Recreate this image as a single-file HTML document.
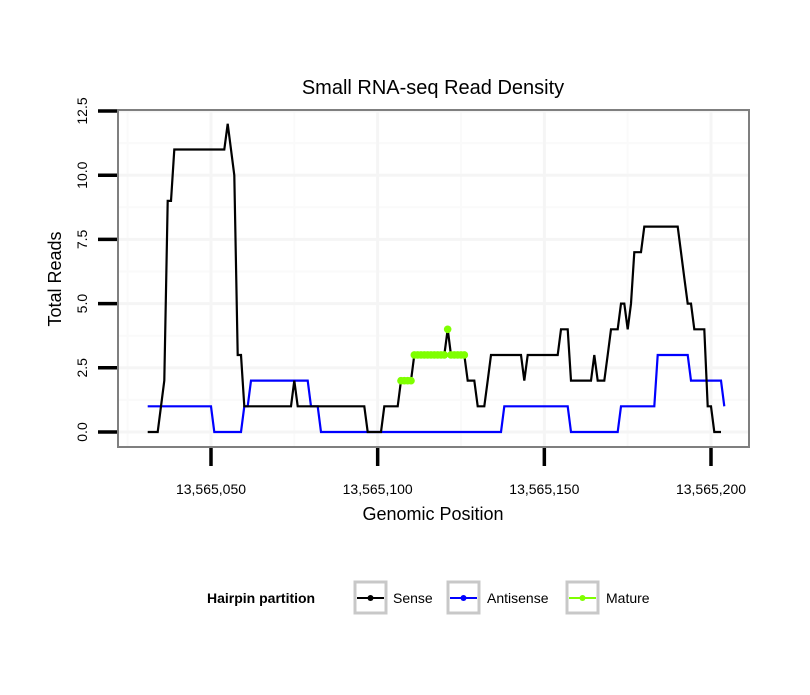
<!DOCTYPE html>
<html><head><meta charset="utf-8"><style>
body{margin:0;background:#fff;font-family:"Liberation Sans",sans-serif}
</style></head><body>
<svg id="c" width="810" height="690" viewBox="0 0 810 690" xmlns="http://www.w3.org/2000/svg" font-family="Liberation Sans, sans-serif">
<rect x="0" y="0" width="810" height="690" fill="#fff"/>
<text x="433" y="94" font-size="20" text-anchor="middle">Small RNA-seq Read Density</text>
<rect x="118" y="110" width="631" height="337" fill="#fff"/>
<g id="grid"></g>
<g id="series"></g>
<rect x="118" y="110" width="631" height="337" fill="none" stroke="#7f7f7f" stroke-width="2"/>
<g id="axes"></g>
<text x="433" y="520" font-size="18" text-anchor="middle">Genomic Position</text>
<text transform="translate(61,279) rotate(-90)" font-size="18" text-anchor="middle">Total Reads</text>
<g font-size="14">
<text x="207" y="603" font-weight="bold">Hairpin partition</text>
<g>
<rect x="355" y="582" width="31" height="31" fill="#fff" stroke="#c8c8c8" stroke-width="3"/>
<line x1="357" y1="598" x2="384" y2="598" stroke="#000" stroke-width="2"/><circle cx="370.5" cy="598" r="3" fill="#000"/>
<text x="393" y="603">Sense</text></g>
<g>
<rect x="448" y="582" width="31" height="31" fill="#fff" stroke="#c8c8c8" stroke-width="3"/>
<line x1="450" y1="598" x2="477" y2="598" stroke="#0000ff" stroke-width="2"/><circle cx="463.5" cy="598" r="3" fill="#0000ff"/>
<text x="487" y="603">Antisense</text></g>
<g>
<rect x="567" y="582" width="31" height="31" fill="#fff" stroke="#c8c8c8" stroke-width="3"/>
<line x1="569" y1="598" x2="596" y2="598" stroke="#7fff00" stroke-width="2"/><circle cx="582.5" cy="598" r="3" fill="#7fff00"/>
<text x="606" y="603">Mature</text></g>
</g>
</svg>
<script>
const startPos = 13565031;
const sense = [0,0,0,0,1,2,9,9,11,11,11,11,11,11,11,11,11,11,11,11,11,11,11,11,12,11,10,3,3,1,
1,1,1,1,1,1,1,1,1,1,1,1,1,1,2,1,1,1,1,1,1,1,1,1,1,1,1,1,1,1,1,1,1,1,1,1,0,0,0,0,
0,1,1,1,1,1,2,2,2,2,3,3,3,3,3,3,3,3,3,3,4,3,3,3,3,3,2,2,2,1,1,1,2,3,3,3,3,3,3,3,
3,3,3,2,3,3,3,3,3,3,3,3,3,3,4,4,4,2,2,2,2,2,2,2,3,2,2,2,3,4,4,4,5,5,4,5,7,7,7,8,
8,8,8,8,8,8,8,8,8,8,7,6,5,5,4,4,4,4,1,1,0,0,0];
const antisense = [1,1,1,1,1,1,1,1,1,1,1,1,1,1,1,1,1,1,1,1,0,0,0,0,0,0,0,0,0,1,
1,2,2,2,2,2,2,2,2,2,2,2,2,2,2,2,2,2,2,1,1,1,0,0,0,0,0,0,0,0,0,0,0,0,0,0,0,0,0,0,
0,0,0,0,0,0,0,0,0,0,0,0,0,0,0,0,0,0,0,0,0,0,0,0,0,0,0,0,0,0,0,0,0,0,0,0,0,1,1,1,
1,1,1,1,1,1,1,1,1,1,1,1,1,1,1,1,1,0,0,0,0,0,0,0,0,0,0,0,0,0,0,0,1,1,1,1,1,1,1,1,
1,1,1,3,3,3,3,3,3,3,3,3,3,2,2,2,2,2,2,2,2,2,2,1];
const matureStart = 76;
const mature = [2,2,2,2,3,3,3,3,3,3,3,3,3,3,4,3,3,3,3,3];
const xTicks = [13565050,13565100,13565150,13565200];
const xTickLabels = ["13,565,050","13,565,100","13,565,150","13,565,200"];
const xMinor = [13565025,13565075,13565125,13565175];
const yTicks = [0,2.5,5,7.5,10,12.5];
const yTickLabels = ["0.0","2.5","5.0","7.5","10.0","12.5"];
const yMinor = [1.25,3.75,6.25,8.75,11.25];

const NS="http://www.w3.org/2000/svg";
const xS = p => 211 + (p-13565050)*(711-211)/150;
const yS = v => 432 - v*(432-111)/12.5;
function mk(tag, attrs, parent){const e=document.createElementNS(NS,tag);for(const k in attrs)e.setAttribute(k,attrs[k]);parent.appendChild(e);return e;}
const grid=document.getElementById('grid'), series=document.getElementById('series'), axes=document.getElementById('axes');
xMinor.forEach(p=>{const l=mk('line',{x1:xS(p),x2:xS(p),y1:111,y2:446,stroke:'#fafafa','stroke-width':2},grid);

});
yMinor.forEach(v=>{const l=mk('line',{x1:119,x2:748,y1:yS(v),y2:yS(v),stroke:'#fafafa','stroke-width':2},grid);

});
xTicks.forEach(p=>{const l=mk('line',{x1:xS(p),x2:xS(p),y1:111,y2:446,stroke:'#f5f5f5','stroke-width':3},grid);

});
yTicks.forEach(v=>{const l=mk('line',{x1:119,x2:748,y1:yS(v),y2:yS(v),stroke:'#f5f5f5','stroke-width':3},grid);

});
function pts(arr,off){return arr.map((v,i)=>xS(startPos+off+i).toFixed(1)+','+yS(v).toFixed(1)).join(' ');}
const as=mk('polyline',{points:pts(antisense,0),fill:'none',stroke:'#0000ff','stroke-width':2.2},series);


const se=mk('polyline',{points:pts(sense,0),fill:'none',stroke:'#000','stroke-width':2.2},series);


mature.forEach((v,i)=>{const c=mk('circle',{cx:xS(startPos+matureStart+i),cy:yS(v),r:3.8,fill:'#7fff00'},series);

});
xTicks.forEach((p,i)=>{const l=mk('line',{x1:xS(p),x2:xS(p),y1:448,y2:466,stroke:'#000','stroke-width':3.5},axes);


const t=mk('text',{x:xS(p),y:494,'font-size':14,'text-anchor':'middle'},axes);t.textContent=xTickLabels[i];

});
yTicks.forEach((v,i)=>{const l=mk('line',{x1:98,x2:117,y1:yS(v),y2:yS(v),stroke:'#000','stroke-width':3.5},axes);


const t=mk('text',{transform:'translate(87,'+yS(v)+') rotate(-90)','font-size':14,'text-anchor':'middle'},axes);t.textContent=yTickLabels[i];

});
</script>
</body></html>
